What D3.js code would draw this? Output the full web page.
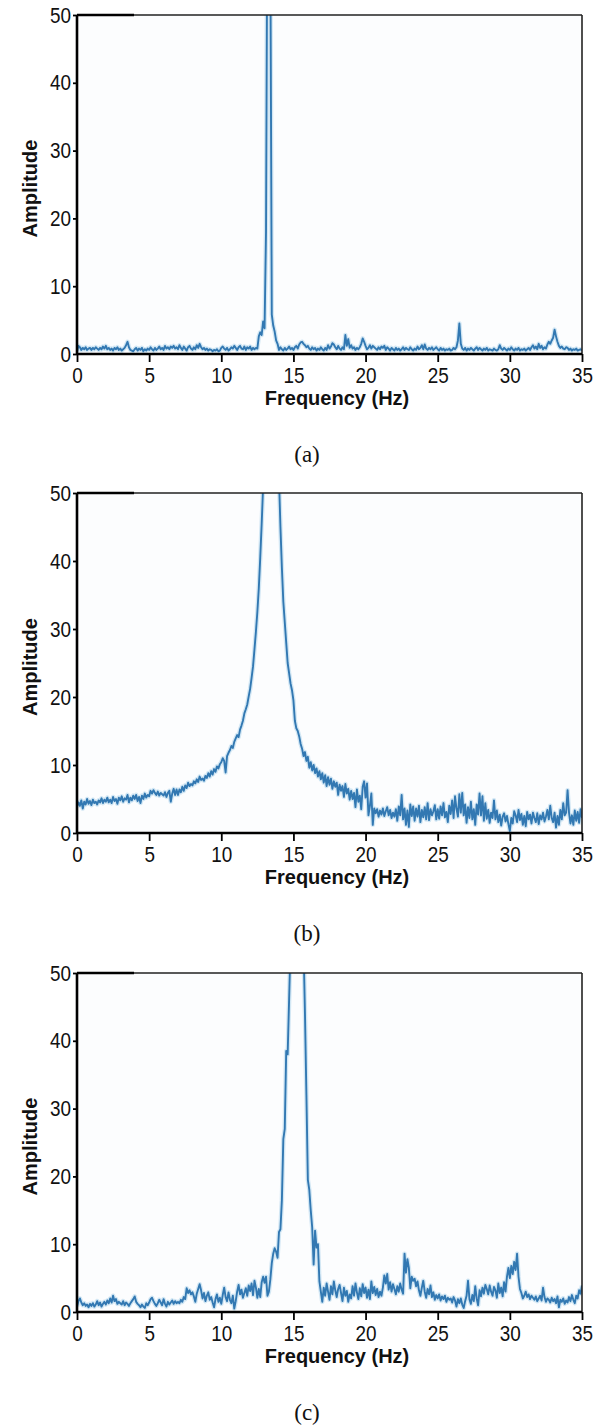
<!DOCTYPE html>
<html>
<head>
<meta charset="utf-8">
<script src="https://cdn.jsdelivr.net/npm/d3@7"></script>
<style>
  html, body { margin: 0; padding: 0; background: #ffffff; }
  svg { display: block; }
</style>
</head>
<body>
<svg id="chart" width="611" height="1428"></svg>
<script>
// ---------------- DATA ----------------
const freqStart = 0;     // Hz
const freqStep = 0.1;    // Hz between samples
const xTicks = [0, 5, 10, 15, 20, 25, 30, 35];
const yTicks = [0, 10, 20, 30, 40, 50];
const xLabel = "Frequency (Hz)";
const yLabel = "Amplitude";
const panelLabels = ["(a)", "(b)", "(c)"];

const ampA = [
  0.3,1.2,1.0,0.6,0.9,0.7,1.0,0.6,0.8,0.9,
  0.6,0.9,0.7,1.0,0.8,0.6,0.9,0.7,1.1,0.8,
  1.2,0.7,0.9,0.6,0.8,0.5,0.9,0.7,1.0,0.6,
  0.8,0.5,0.7,0.9,1.3,1.8,1.0,0.6,0.5,0.4,
  0.7,0.9,0.5,0.8,0.6,0.9,0.4,0.7,0.5,0.8,
  0.6,1.0,0.7,0.5,0.9,0.6,0.8,1.1,0.7,0.9,
  0.6,1.2,0.8,1.0,0.7,1.1,0.9,1.2,0.8,1.0,
  0.7,1.3,0.9,0.6,1.1,0.8,0.5,1.0,1.2,0.8,
  0.6,1.0,0.7,1.3,0.9,1.5,1.0,0.7,0.9,0.6,
  0.8,0.5,0.7,0.6,0.4,0.6,0.5,0.7,0.4,0.5,
  0.9,1.1,0.8,0.6,0.9,0.5,0.7,1.0,0.8,1.2,
  0.9,0.6,1.0,1.2,0.8,0.7,1.1,0.6,1.0,0.8,
  1.1,0.6,0.9,0.7,0.9,0.8,2.6,3.2,2.8,4.8,
  3.8,18,70,90,60,5.8,4.2,3.3,2.0,1.5,
  0.6,1.0,0.7,0.5,0.9,0.6,0.8,1.1,0.7,0.9,
  0.6,1.0,1.2,0.8,1.4,1.7,1.8,1.5,1.3,1.0,
  1.2,0.8,0.6,1.0,0.7,0.9,0.5,0.8,0.6,1.0,
  0.7,0.5,0.9,0.6,1.3,0.8,1.1,1.6,1.4,1.0,
  0.7,1.2,0.8,0.6,1.0,0.7,2.8,1.2,2.2,0.9,
  1.3,0.8,1.0,0.6,0.9,0.7,1.0,1.5,2.3,1.8,
  1.2,0.7,0.9,1.3,0.8,1.2,1.0,0.8,0.6,1.0,
  0.7,1.1,0.9,1.2,0.6,1.0,0.8,0.5,0.9,0.7,
  0.5,0.9,0.6,0.8,0.5,0.7,1.0,0.6,0.9,0.7,
  0.6,1.0,0.7,0.5,0.8,0.6,1.1,0.7,0.9,1.3,
  0.7,1.4,0.8,0.6,0.9,0.7,1.0,0.6,0.8,1.0,
  0.7,0.5,0.9,0.6,0.8,0.5,0.7,0.6,0.8,0.5,
  0.6,0.9,0.7,1.0,2.0,4.5,1.5,0.8,0.6,0.9,
  0.5,0.8,0.6,0.9,0.7,0.5,0.8,1.0,0.6,0.9,
  0.7,0.5,0.8,0.6,0.9,0.5,0.7,0.6,0.5,0.8,
  0.6,0.5,0.7,1.3,0.8,0.6,0.9,0.7,0.5,0.8,
  0.6,1.0,0.7,0.5,0.8,0.6,0.9,0.5,0.7,0.6,
  0.8,0.5,0.7,0.9,0.6,1.0,1.3,0.8,1.1,0.7,
  1.5,0.9,1.2,0.7,1.0,0.8,1.4,1.8,1.5,2.0,
  2.4,3.6,2.6,1.8,1.2,0.9,1.1,0.8,0.7,1.0,
  0.9,0.6,0.8,0.5,0.7,0.6,0.8,0.5,0.6,0.7,
  0.5
];

const ampB = [
  3.9,4.5,4.0,4.8,3.6,4.6,4.2,5.0,4.3,4.7,
  4.1,4.9,4.4,4.6,4.2,4.8,4.5,5.1,4.4,4.9,
  4.6,5.2,4.5,4.9,4.4,5.3,4.7,5.0,4.3,5.2,
  4.8,5.4,4.6,5.1,4.9,5.6,4.5,5.2,4.8,5.5,
  5.0,5.6,4.7,5.3,4.4,5.5,5.0,5.8,5.2,5.6,
  5.4,6.2,5.8,6.3,5.9,5.6,6.1,5.5,5.9,5.7,
  5.5,6.0,5.3,5.9,6.2,4.6,5.8,6.5,5.6,6.4,
  5.6,6.4,6.0,6.8,6.2,7.0,6.6,7.4,6.9,7.2,
  7.0,7.6,7.3,7.9,7.5,8.3,7.8,8.0,7.7,8.4,
  8.1,8.8,8.3,9.1,8.6,9.4,9.0,9.8,9.5,10.1,
  10.4,11.0,10.6,8.9,11.3,11.8,12.2,12.8,12.5,13.4,
  13.9,14.4,14.1,15.2,15.8,16.5,17.6,18.2,18.9,20.1,
  21.2,22.8,24.5,27.0,29.6,32.5,36.0,40.5,45.5,51.0,
  60,72,85,95,100,96,88,78,68,58,
  52,45,39,34,31,28,25,23.5,22,21,
  19.5,16.5,15.4,15.0,14.2,13.1,12.4,11.3,11.9,10.6,
  11.2,9.6,10.4,9.2,10.0,8.8,9.5,8.3,9.1,7.9,
  8.8,7.4,8.5,6.9,8.2,7.1,8.0,6.5,7.6,6.8,
  7.4,5.6,7.1,6.2,6.9,5.3,7.2,5.8,6.5,4.9,
  6.2,5.0,5.9,3.8,6.4,4.6,5.5,3.5,6.8,7.6,
  5.2,7.3,2.6,4.0,5.8,1.2,3.6,2.9,3.5,2.4,
  3.3,2.7,3.6,2.5,3.2,3.8,2.6,3.4,2.2,3.0,
  2.4,3.5,1.8,3.9,2.6,5.6,2.0,3.6,1.2,3.3,
  0.9,4.2,2.5,3.9,1.8,3.6,2.4,4.0,1.6,3.4,
  2.3,3.8,2.0,4.4,1.9,3.5,2.6,3.2,4.1,2.0,
  3.5,2.1,3.9,2.6,4.4,2.3,3.1,1.6,4.0,2.8,
  4.8,2.2,5.4,3.6,2.4,5.7,3.0,5.9,2.6,4.2,
  1.5,3.8,2.2,4.6,2.0,3.5,1.2,4.2,2.7,5.8,
  2.6,5.4,1.8,4.4,2.1,3.4,1.5,3.0,2.2,4.8,
  2.0,3.3,1.6,2.7,1.1,2.4,2.9,1.7,2.5,1.3,
  0.3,2.2,1.4,3.2,2.6,1.6,3.4,1.9,2.8,1.2,
  2.5,1.0,3.1,2.0,2.7,1.4,3.0,2.2,1.6,2.9,
  1.3,2.6,2.0,3.0,1.7,2.4,3.4,2.0,4.0,2.2,
  1.6,3.0,0.8,2.5,1.2,3.4,2.0,4.4,2.6,3.0,
  6.3,3.0,1.4,2.6,1.2,3.3,1.8,3.1,1.5,3.5,
  2.2
];

const ampC = [
  0.8,1.6,2.0,1.4,1.0,1.3,0.9,1.1,0.7,1.2,
  0.9,1.3,0.8,1.1,1.6,1.0,1.4,0.8,1.2,1.5,
  1.1,1.7,1.3,2.0,1.4,2.4,1.6,1.9,1.2,1.5,
  1.3,1.1,1.6,1.0,1.4,1.2,0.9,1.3,1.6,1.9,
  2.3,1.5,1.2,1.0,0.7,1.1,0.8,0.6,1.3,1.0,
  1.4,1.9,2.1,1.6,1.2,0.9,1.3,1.8,1.4,1.0,
  1.9,1.2,0.8,1.5,1.1,1.4,1.7,1.2,1.6,1.3,
  1.5,1.3,1.8,1.5,2.2,1.9,3.5,2.8,3.2,2.6,
  2.9,2.3,1.5,2.7,3.4,4.1,3.2,2.0,2.8,1.6,
  2.4,2.9,1.8,2.2,1.4,0.7,1.9,2.6,1.5,2.1,
  1.2,2.5,3.6,2.2,1.6,2.9,1.8,1.3,2.4,0.5,
  1.6,3.0,4.0,2.6,3.3,2.1,2.8,3.5,2.4,3.9,
  3.1,4.2,2.5,4.6,3.6,2.1,3.4,2.2,4.4,5.2,
  4.3,5.2,2.4,3.0,4.8,7.2,8.6,9.4,8.9,8.0,
  11.8,12.2,16.5,25.5,27.0,38.5,38.0,46.0,54.0,70.0,
  88,98,100,97,90,80,68,54,44,32,
  19.5,18.0,15.0,12.5,7.0,12.0,9.5,10.0,4.5,3.0,
  1.5,3.6,2.4,4.2,3.0,1.8,3.8,2.6,4.5,3.2,
  2.2,3.4,4.0,2.8,1.6,3.6,2.4,3.1,1.5,2.6,
  2.0,3.8,2.4,4.2,2.9,1.9,3.5,2.3,4.1,2.8,
  3.6,2.1,3.3,1.9,4.5,2.8,3.7,2.5,3.4,2.2,
  3.0,2.4,3.6,5.4,4.2,5.6,3.3,4.4,3.0,4.1,
  3.4,2.6,3.8,3.0,4.2,3.3,2.7,8.6,5.8,7.8,
  6.5,3.5,5.2,4.6,4.9,3.8,4.5,3.2,2.4,3.6,
  4.6,3.0,2.1,3.4,2.6,3.9,2.2,2.9,1.8,2.5,
  2.0,2.6,1.7,2.3,1.9,2.4,1.5,2.1,1.8,2.0,
  1.4,2.2,1.7,0.8,1.9,1.3,2.0,1.1,0.6,1.6,
  2.4,4.6,1.9,1.2,2.5,1.6,3.8,2.0,1.0,3.2,
  2.3,3.6,2.7,4.0,3.4,2.6,3.9,3.0,2.4,3.7,
  3.2,2.1,4.2,2.8,3.6,2.3,4.4,3.0,5.2,6.5,
  5.0,6.8,5.6,7.4,6.2,8.6,5.2,3.4,2.8,2.0,
  2.4,3.0,2.2,2.6,1.9,2.4,2.1,1.8,2.3,1.6,
  2.0,2.4,1.7,3.6,2.2,1.5,2.0,1.8,1.4,2.1,
  1.6,1.9,1.3,2.3,0.7,1.8,1.5,2.0,1.2,1.7,
  1.4,2.2,1.6,2.5,1.8,1.3,2.4,2.0,3.2,2.7,
  3.9
];

// ---------------- LAYOUT ----------------
const plotLeft = 77, plotRight = 582;
const panels = [
  { amp: ampA, top: 15,  bottom: 354,  label: panelLabels[0] },
  { amp: ampB, top: 493, bottom: 833,  label: panelLabels[1] },
  { amp: ampC, top: 973, bottom: 1312, label: panelLabels[2] }
];
const lineColor = "#3278b2";
const tickFont = "'Liberation Sans',Arial,Helvetica,sans-serif";
const boldFont = "'Liberation Sans',Arial,Helvetica,sans-serif";

const svg = d3.select("#chart");

panels.forEach((p, i) => {
  const x = d3.scaleLinear().domain([0, 35]).range([plotLeft, plotRight]);
  const y = d3.scaleLinear().domain([0, 50]).range([p.bottom, p.top]);
  const data = p.amp.map((a, k) => ({ f: freqStart + k * freqStep, a: a }));

  const g = svg.append("g");

  const clipId = "clip" + i;
  svg.append("clipPath").attr("id", clipId)
    .append("rect")
    .attr("x", plotLeft).attr("y", p.top)
    .attr("width", plotRight - plotLeft).attr("height", p.bottom - p.top);

  g.append("rect")
    .attr("x", plotLeft).attr("y", p.top)
    .attr("width", plotRight - plotLeft).attr("height", p.bottom - p.top)
    .attr("fill", "#fcfdfe");

  const line = d3.line().x(d => x(d.f)).y(d => y(d.a));

  const lg = g.append("g").attr("clip-path", `url(#${clipId})`);
  lg.append("path").datum(data)
    .attr("d", line)
    .attr("fill", "none")
    .attr("stroke", "#9fcbe8")
    .attr("stroke-opacity", 0.45)
    .attr("stroke-width", 4.5)
    .attr("stroke-linejoin", "round");
  lg.append("path").datum(data)
    .attr("d", line)
    .attr("fill", "none")
    .attr("stroke", lineColor)
    .attr("stroke-width", 1.9)
    .attr("stroke-linejoin", "round");

  g.append("line")
    .attr("x1", plotLeft).attr("x2", plotRight)
    .attr("y1", p.top).attr("y2", p.top)
    .attr("stroke", "#222").attr("stroke-width", 1.6);
  g.append("line")
    .attr("x1", plotRight).attr("x2", plotRight)
    .attr("y1", p.top).attr("y2", p.bottom)
    .attr("stroke", "#222").attr("stroke-width", 1.6);
  g.append("line")
    .attr("x1", plotLeft).attr("x2", plotLeft + 57)
    .attr("y1", p.top).attr("y2", p.top)
    .attr("stroke", "#000").attr("stroke-width", 2.6);

  const xAxis = d3.axisBottom(x).tickValues(xTicks).tickSize(8).tickPadding(5).tickFormat(d3.format("d"));
  const yAxis = d3.axisLeft(y).tickValues(yTicks).tickSize(4).tickPadding(2).tickFormat(d3.format("d"));

  const gx = g.append("g").attr("transform", `translate(0,${p.bottom})`).call(xAxis);
  const gy = g.append("g").attr("transform", `translate(${plotLeft},0)`).call(yAxis);
  [gx, gy].forEach(ax => {
    ax.select(".domain").attr("stroke", "#000").attr("stroke-width", 2.6);
    ax.selectAll(".tick line").attr("stroke", "#000").attr("stroke-width", 1.8);
    ax.selectAll(".tick text")
      .attr("fill", "#111")
      .attr("transform", "scale(0.86,1)")
      .style("font-family", tickFont)
      .style("font-size", "22px");
  });
  gy.selectAll(".tick text").attr("x", -7);
  gx.select(".domain").attr("d", `M${plotLeft},0H${plotRight}`);
  gy.select(".domain").attr("d", `M0,${p.bottom}V${p.top}`);

  g.append("text")
    .attr("x", 337).attr("y", p.bottom + 51)
    .attr("text-anchor", "middle")
    .style("font-family", boldFont).style("font-weight", "bold").style("font-size", "20px")
    .attr("fill", "#111")
    .text(xLabel);
  g.append("text")
    .attr("transform", `translate(37,${(p.top + p.bottom) / 2 + 4}) rotate(-90)`)
    .attr("text-anchor", "middle")
    .style("font-family", boldFont).style("font-weight", "bold").style("font-size", "20px")
    .attr("fill", "#111")
    .text(yLabel);

  g.append("text")
    .attr("x", 307).attr("y", p.bottom + 108)
    .attr("text-anchor", "middle")
    .style("font-family", "'Liberation Serif','Times New Roman',serif").style("font-size", "23px")
    .attr("fill", "#111")
    .text(p.label);
});
</script>
</body>
</html>
